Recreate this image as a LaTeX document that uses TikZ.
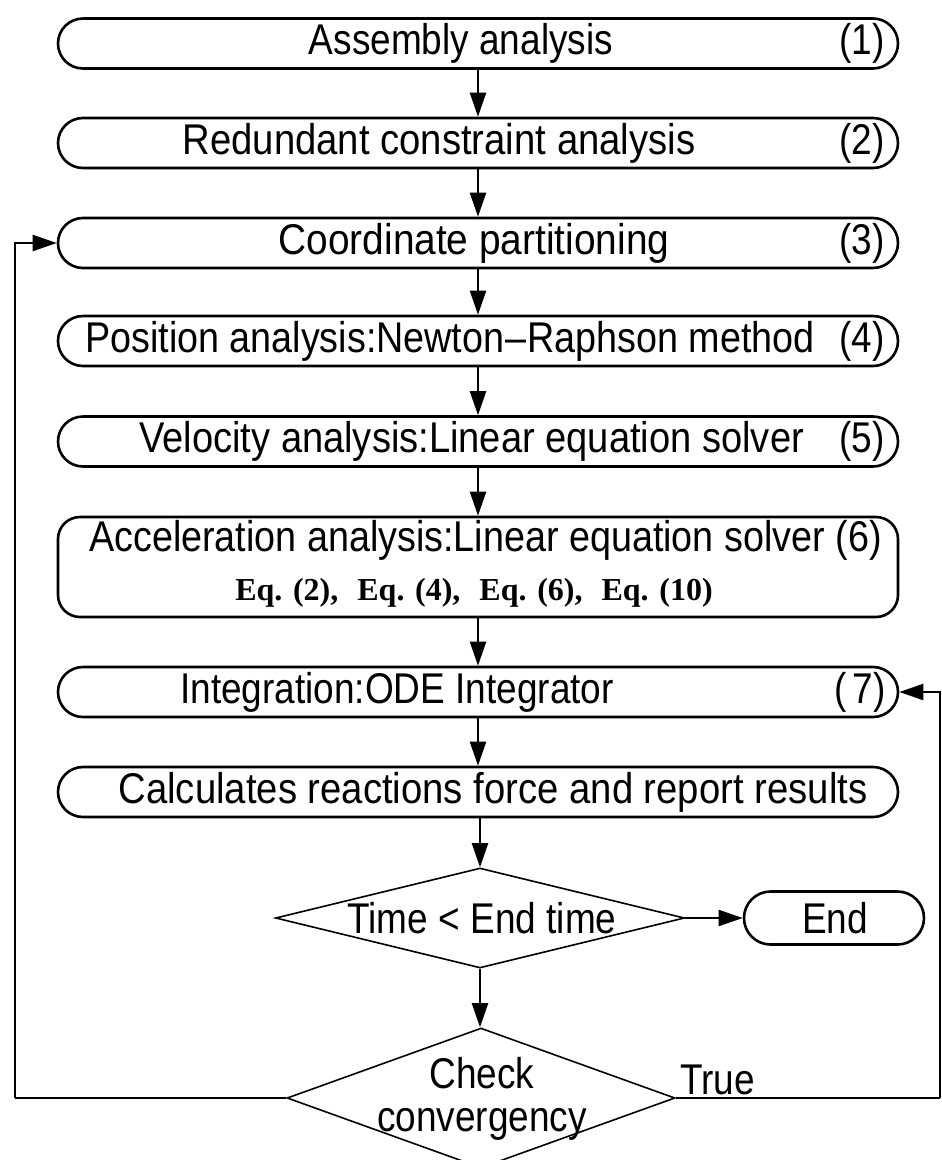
\documentclass[tikz,border=0pt]{standalone}
\usepackage{graphicx}
\usepackage{fontspec}
\setmainfont[FakeStretch=0.86]{Liberation Sans}
\newfontfamily\eqfont{Liberation Serif}
\usetikzlibrary{shapes.misc,shapes.geometric,arrows.meta}
% horizontal stretch of a single label
\newcommand{\widen}[2]{\scalebox{#1}[1]{#2}}

\begin{document}
\begin{tikzpicture}[x=1pt,y=-1pt,
  stage/.style={draw,line width=2.6pt,rounded rectangle,minimum width=840pt,minimum height=50pt,inner sep=0pt},
  block/.style={draw,line width=2.6pt,rounded corners=22pt,minimum width=840pt,minimum height=100pt,inner sep=0pt},
  test/.style={draw,line width=1.6pt,diamond,inner sep=0pt},
  lbl/.style={font=\fontsize{43}{43}\selectfont,inner sep=0pt},
  eqlbl/.style={font=\eqfont\bfseries\fontsize{32}{34}\selectfont,inner sep=0pt},
  flow/.style={line width=2.2pt,-{Triangle[length=24pt,width=16pt]}},
  link/.style={line width=2.2pt}]

\useasboundingbox (0,0) rectangle (942,1160);

% process stages
\node[stage] (b1) at (478,43.5) {};
\node[stage] (b2) at (478,143) {};
\node[stage] (b3) at (478,243) {};
\node[stage] (b4) at (478,341) {};
\node[stage] (b5) at (478,441.5) {};
\node[block] (b6) at (478,567) {};
\node[stage] (b7) at (478,692) {};
\node[stage] (b8) at (478,792) {};

% decisions and end
\node[test,minimum width=409pt,minimum height=100pt] (d1) at (480,918) {};
\node[stage,minimum width=180pt,minimum height=53pt] (fin) at (834,918) {};
\node[test,minimum width=388pt,minimum height=140pt] (d2) at (481,1098) {};

% texts
\node[lbl] (t1) at (461,43.5) {Assembly analysis};
\node[lbl,anchor=east] (n1) at (885,43.5) {(1)};
\node[lbl] (t2) at (439,143) {\widen{1.035}{Redundant constraint analysis}};
\node[lbl,anchor=east] (n2) at (885,143) {(2)};
\node[lbl] (t3) at (474,243) {\widen{1.05}{Coordinate partitioning}};
\node[lbl,anchor=east] (n3) at (885,243) {(3)};
\node[lbl,anchor=west] (t4) at (85,341) {\widen{1.02}{Position analysis:Newton\kern1pt--\kern1ptRaphson method}};
\node[lbl,anchor=east] (n4) at (885,341) {(4)};
\node[lbl,anchor=west] (t5) at (139,441.5) {\widen{1.03}{Velocity analysis:Linear equation solver}};
\node[lbl,anchor=east] (n5) at (885,441.5) {(5)};
\node[lbl,anchor=west] (t6) at (89,540) {\widen{1.02}{Acceleration analysis:Linear equation solver (6)}};
\node[eqlbl] (e6) at (474,593) {Eq. (2),\hspace{19pt}Eq. (4),\hspace{19pt}Eq. (6),\hspace{19pt}Eq. (10)};
\node[lbl,anchor=west] (t7) at (180,692) {Integration:ODE Integrator};
\node[lbl,anchor=east] (n7) at (886,692) {(\kern6pt7)};
\node[lbl] (t8) at (493,792) {\widen{1.035}{Calculates reactions force and report results}};
\node[lbl] (td1) at (482,918) {Time < End time};
\node[lbl] (tfin) at (835,918) {End};
\node[lbl,align=center] (td2) at (482,1098.5) {Check\\convergency};
\node[lbl,anchor=south west] (ttrue) at (680,1095) {True};

% main flow
\draw[flow] (b1) -- (b2);
\draw[flow] (b2) -- (b3);
\draw[flow] (b3) -- (b4);
\draw[flow] (b4) -- (b5);
\draw[flow] (b5) -- (b6);
\draw[flow] (b6) -- (b7);
\draw[flow] (b7) -- (b8);
\draw[flow] (b8.south -| d1.north) -- (d1.north);
\draw[flow] (d1.south) -- (d1.south |- d2.north);
\draw[flow] (d1.east) -- (fin.west);

% feedback loops
\coordinate (lc) at (15,1098);
\coordinate (rc) at (940,1098);
\draw[link] (d2.west) -- (lc);
\draw[flow] (lc) |- (b3.west);
\draw[link] (d2.east) -- (rc);
\draw[flow] (rc) |- (b7.east);
\end{tikzpicture}
\end{document}
